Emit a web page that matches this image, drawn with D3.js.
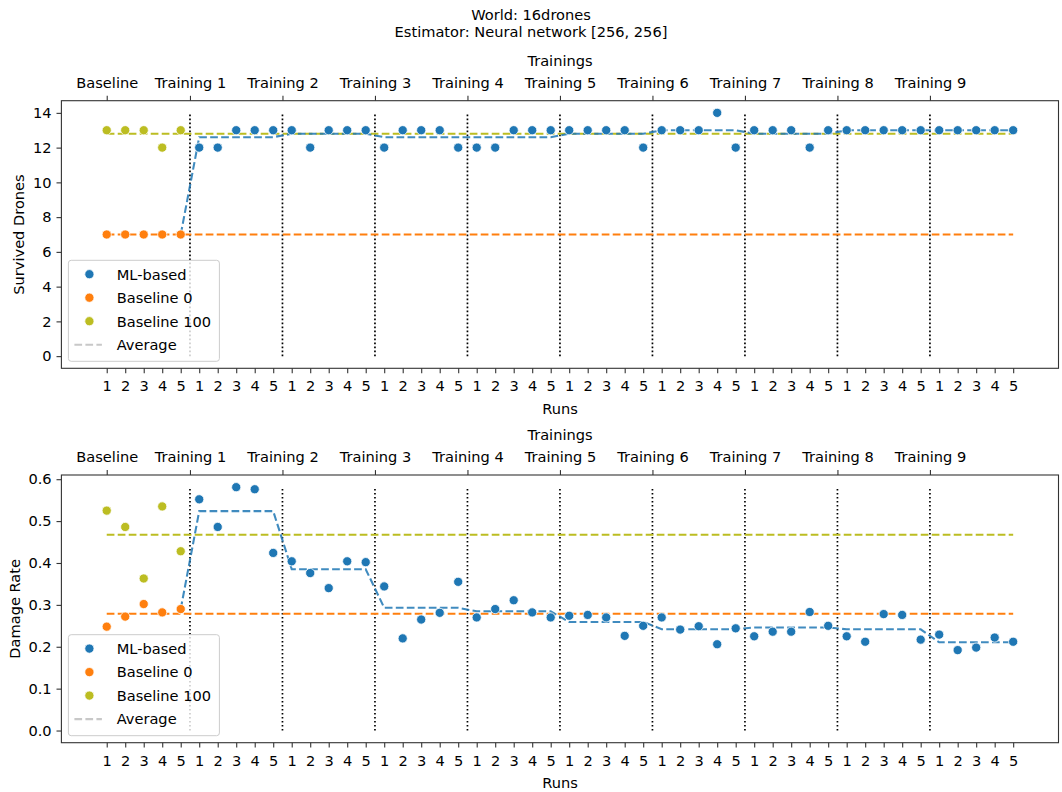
<!DOCTYPE html>
<html>
<head>
<meta charset="utf-8">
<script src="https://cdn.jsdelivr.net/npm/d3@7"></script>
<style>
  html, body { margin: 0; padding: 0; background: #fff; }
  svg { display: block; }
  text { font-family: "DejaVu Sans", sans-serif; fill: #000; }
  .tick text { font-size: 14.6px; }
</style>
</head>
<body>
<svg id="chart" width="1062" height="792"></svg>
<script>
// ---- data ----------------------------------------------------------------
const runLabels = ["1", "2", "3", "4", "5"];
const groupLabels = ["Baseline", "Training 1", "Training 2", "Training 3", "Training 4",
                     "Training 5", "Training 6", "Training 7", "Training 8", "Training 9"];
const seriesNames = ["ML-based", "Baseline 0", "Baseline 100"];

// Survived drones per run
const survivedBaseline0 = [7, 7, 7, 7, 7];
const survivedBaseline100 = [13, 13, 13, 12, 13];
const survivedML = [
  12, 12, 13, 13, 13,
  13, 12, 13, 13, 13,
  12, 13, 13, 13, 12,
  12, 12, 13, 13, 13,
  13, 13, 13, 13, 12,
  13, 13, 13, 14, 12,
  13, 13, 13, 12, 13,
  13, 13, 13, 13, 13,
  13, 13, 13, 13, 13
];

// Damage rate per run
const damageBaseline0 = [0.248, 0.272, 0.302, 0.282, 0.290];
const damageBaseline100 = [0.525, 0.486, 0.363, 0.535, 0.428];
const damageML = [
  0.552, 0.486, 0.581, 0.576, 0.424,
  0.404, 0.376, 0.340, 0.404, 0.402,
  0.344, 0.220, 0.265, 0.281, 0.355,
  0.270, 0.290, 0.311, 0.282, 0.270,
  0.274, 0.276, 0.270, 0.226, 0.250,
  0.270, 0.241, 0.249, 0.206, 0.244,
  0.225, 0.236, 0.236, 0.283, 0.250,
  0.225, 0.212, 0.278, 0.276, 0.217,
  0.229, 0.192, 0.198, 0.222, 0.212
];

const titleLines = ["World: 16drones", "Estimator: Neural network [256, 256]"];

// ---- styling -------------------------------------------------------------
const colors = { ml: "#1f77b4", b0: "#ff7f0e", b100: "#bcbd22" };
const FONT = 14.6;
const TICK = 4.9;
const nRuns = runLabels.length;
const nTotal = groupLabels.length * nRuns;

const svg = d3.select("#chart");

// suptitle
svg.append("g").selectAll("text").data(titleLines).join("text")
  .attr("x", 531).attr("y", (d, i) => 19.5 + i * 17.8)
  .attr("text-anchor", "middle").attr("font-size", FONT)
  .text(d => d);

const x = d3.scaleLinear().domain([-2.45, nTotal - 1 + 2.45]).range([61.4, 1058.5]);

function styleAxis(a) {
  a.select(".domain").remove();
  a.selectAll("line").attr("stroke", "#333").attr("stroke-width", 1.1);
}

function panel(cfg) {
  const { top, bottom, ylabel, ylabelX, mlVals, b0Vals, b100Vals, yTicks, yFmt } = cfg;
  const maxV = d3.max([...mlVals, ...b0Vals, ...b100Vals]);
  const pad = maxV * 0.05;
  const y = d3.scaleLinear().domain([-pad, maxV + pad]).range([bottom, top]);
  const g = svg.append("g");

  // bottom axis: runs 1..5 repeated for every group
  const runIdx = d3.range(nTotal);
  const xAxis = d3.axisBottom(x).tickValues(runIdx)
    .tickFormat(i => runLabels[i % nRuns]).tickSize(TICK).tickPadding(7.6);
  g.append("g").attr("transform", `translate(0,${bottom})`).call(xAxis).call(styleAxis);

  // top axis: group names
  const groupPos = groupLabels.map((d, k) => k === 0 ? 0 : nRuns * k - 0.5);
  const topAxis = d3.axisTop(x).tickValues(groupPos)
    .tickFormat((d, k) => groupLabels[k]).tickSize(TICK).tickPadding(8.3);
  g.append("g").attr("transform", `translate(0,${top})`).call(topAxis).call(styleAxis);

  // left axis
  const yAxis = d3.axisLeft(y).tickValues(yTicks).tickFormat(yFmt).tickSize(TICK).tickPadding(4.9);
  g.append("g").attr("transform", `translate(${x.range()[0]},0)`).call(yAxis).call(styleAxis);

  // axis labels
  g.append("text").attr("x", 560).attr("y", bottom + 45.5)
    .attr("text-anchor", "middle").attr("font-size", FONT).text("Runs");
  g.append("text").attr("x", 560).attr("y", top - 35)
    .attr("text-anchor", "middle").attr("font-size", FONT).text("Trainings");
  g.append("text")
    .attr("transform", `translate(${ylabelX},${(top + bottom) / 2}) rotate(-90)`)
    .attr("text-anchor", "middle").attr("font-size", FONT).text(ylabel);

  // training separators
  const seps = d3.range(1, groupLabels.length).map(k => nRuns * k - 0.5);
  g.append("g").selectAll("line").data(seps).join("line")
    .attr("x1", d => x(d)).attr("x2", d => x(d))
    .attr("y1", y(0)).attr("y2", y(maxV))
    .attr("stroke", "#000").attr("stroke-width", 1.7)
    .attr("stroke-dasharray", "1.6,2.4");

  // averages
  const line = d3.line().x(d => x(d.i)).y(d => y(d.v));
  const flat = (vals) => [{ i: 0, v: d3.mean(vals) }, { i: nTotal - 1, v: d3.mean(vals) }];
  const mlAvg = [{ i: nRuns - 1, v: b0Vals[nRuns - 1] }];
  mlVals.forEach((v, j) => {
    const t = Math.floor(j / nRuns);
    mlAvg.push({ i: nRuns + j, v: d3.mean(mlVals.slice(t * nRuns, t * nRuns + nRuns)) });
  });
  const dash = "7.7,3.3";
  g.append("path").attr("d", line(flat(b0Vals))).attr("fill", "none")
    .attr("stroke", colors.b0).attr("stroke-width", 2.08).attr("stroke-dasharray", dash);
  g.append("path").attr("d", line(flat(b100Vals))).attr("fill", "none")
    .attr("stroke", colors.b100).attr("stroke-width", 2.08).attr("stroke-dasharray", dash);
  g.append("path").attr("d", line(mlAvg)).attr("fill", "none")
    .attr("stroke", colors.ml).attr("stroke-opacity", 0.85)
    .attr("stroke-width", 2.08).attr("stroke-dasharray", dash);

  // points
  const dot = (vals, offset, color) => g.append("g").selectAll("circle")
    .data(vals).join("circle")
    .attr("cx", (d, j) => x(offset + j)).attr("cy", d => y(d))
    .attr("r", 4.6).attr("fill", color).attr("stroke", "#fff").attr("stroke-width", 0.8);
  dot(b100Vals, 0, colors.b100);
  dot(b0Vals, 0, colors.b0);
  dot(mlVals, nRuns, colors.ml);

  // frame
  g.append("rect").attr("x", x.range()[0]).attr("y", top)
    .attr("width", x.range()[1] - x.range()[0]).attr("height", bottom - top)
    .attr("fill", "none").attr("stroke", "#333").attr("stroke-width", 1.1);

  // legend
  const lgH = 101, lgW = 151;
  const lgBottom = bottom - 7, lgTop = lgBottom - lgH, lgLeft = x.range()[0] + 7;
  const lg = g.append("g");
  lg.append("rect").attr("x", lgLeft).attr("y", lgTop).attr("width", lgW).attr("height", lgH)
    .attr("rx", 2.8).attr("fill", "#fff").attr("fill-opacity", 0.8)
    .attr("stroke", "#cccccc").attr("stroke-width", 1);
  const entries = [
    { name: seriesNames[0], color: colors.ml, type: "dot" },
    { name: seriesNames[1], color: colors.b0, type: "dot" },
    { name: seriesNames[2], color: colors.b100, type: "dot" },
    { name: "Average", color: "#c8c8c8", type: "line" }
  ];
  entries.forEach((e, k) => {
    const cy = lgBottom - 16.6 - (entries.length - 1 - k) * 23.5;
    if (e.type === "dot") {
      lg.append("circle").attr("cx", lgLeft + 21).attr("cy", cy).attr("r", 4.6)
        .attr("fill", e.color).attr("stroke", "#fff").attr("stroke-width", 0.8);
    } else {
      lg.append("line").attr("x1", lgLeft + 6).attr("x2", lgLeft + 33.5)
        .attr("y1", cy).attr("y2", cy).attr("stroke", e.color)
        .attr("stroke-width", 2.08).attr("stroke-dasharray", dash);
    }
    lg.append("text").attr("x", lgLeft + 48.3).attr("y", cy + 5.3)
      .attr("font-size", FONT).text(e.name);
  });
}

panel({
  top: 100.7, bottom: 368.3, ylabel: "Survived Drones", ylabelX: 23.5,
  mlVals: survivedML, b0Vals: survivedBaseline0, b100Vals: survivedBaseline100,
  yTicks: d3.range(0, 15, 2), yFmt: d3.format("d")
});
panel({
  top: 475, bottom: 742.7, ylabel: "Damage Rate", ylabelX: 19.5,
  mlVals: damageML, b0Vals: damageBaseline0, b100Vals: damageBaseline100,
  yTicks: d3.range(0, 0.61, 0.1), yFmt: d3.format(".1f")
});
</script>
</body>
</html>
